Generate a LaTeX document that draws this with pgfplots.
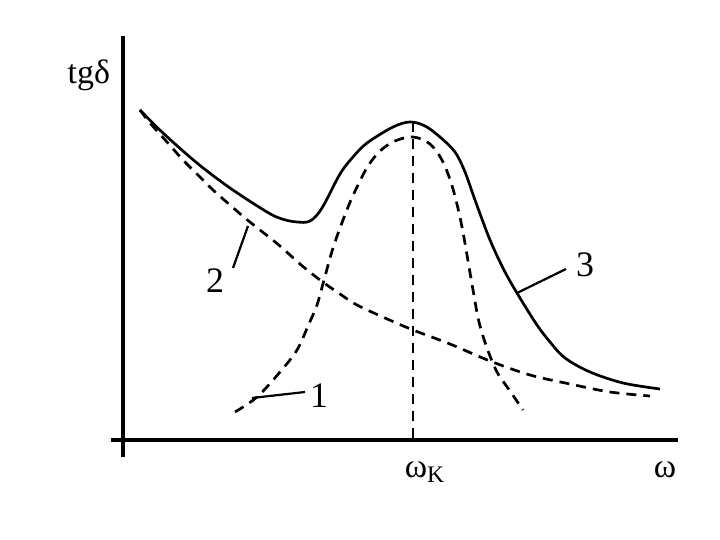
\documentclass[border=0pt]{standalone}
\usepackage{fontspec}
\setmainfont{Liberation Serif}
\usepackage{pgfplots}
\pgfplotsset{compat=1.18}

% picture coordinates follow the reference: x to the right, y downwards, 720 x 540
\pgfplotstableread{
px py
140 110
163 133
197 163
230 188
267 212
282 219
297 222
310 221
322 208
340 174
353 157
367 143
393 127
410 122
425 126
440 137
455 152
465 172
475 200
490 240
505 272
520 298
537 325
550 342
565 358
590 372
623 383
660 389
}\curvethree
\pgfplotstableread{
px py
140 110
150 123
167 142
183 160
200 177
213 190
230 205
245 218
260 230
280 246
300 264
320 280
340 294
357 305
385 318
413 330
450 344
490 361
530 375
570 384
610 392
650 396
}\curvetwo
\pgfplotstableread{
px py
235 412
257 397
280 372
297 350
308 326
317 305
324 280
333 248
343 220
351 200
359 183
368 166
380 151
395 141
413 137
430 144
443 162
453 189
461 222
467 255
473 290
479 322
487 348
497 372
510 391
523 410
}\curveone

\begin{document}
\begin{tikzpicture}
\begin{axis}[
  scale only axis, width=360bp, height=270bp,
  xmin=0, xmax=720, ymin=0, ymax=540, y dir=reverse,
  hide axis, clip=false,
  every axis plot/.append style={line width=1.35bp}]
  \path (axis cs:0,0) (axis cs:720,540);
  % axes
  \draw[line width=1.6bp] (axis cs:123,36) -- (axis cs:123,457);
  \draw[line width=1.6bp] (axis cs:111,440) -- (axis cs:678,440);
  \draw[line width=1.3bp, dash pattern=on 5bp off 3.5bp] (axis cs:413,122) -- (axis cs:413,440);
  % curves
  \addplot[black, smooth, tension=0.55] table[x=px,y=py] {\curvethree};
  \addplot[black, smooth, tension=0.55, dash pattern=on 5bp off 3.5bp] table[x=px,y=py] {\curvetwo};
  \addplot[black, smooth, tension=0.55, dash pattern=on 5bp off 3.5bp] table[x=px,y=py] {\curveone};
  % leaders and labels
  \draw[line width=1.1bp] (axis cs:233,268) -- (axis cs:248,226);
  \draw[line width=1.1bp] (axis cs:252,398) -- (axis cs:305,392);
  \draw[line width=1.1bp] (axis cs:517,293) -- (axis cs:566,269);
  \node[font=\fontsize{18}{20}\selectfont] at (axis cs:215,281) {2};
  \node[font=\fontsize{18}{20}\selectfont] at (axis cs:319,396) {1};
  \node[font=\fontsize{18}{20}\selectfont] at (axis cs:585,265) {3};
  \node[font=\fontsize{17}{19}\selectfont, anchor=base east] at (axis cs:117,84) {tgδ};
  \node[font=\fontsize{17}{19}\selectfont, anchor=base] at (axis cs:425,477) {ω\textsubscript{K}};
  \node[font=\fontsize{17}{19}\selectfont, anchor=base] at (axis cs:665,477) {ω};
\end{axis}
\end{tikzpicture}
\end{document}
